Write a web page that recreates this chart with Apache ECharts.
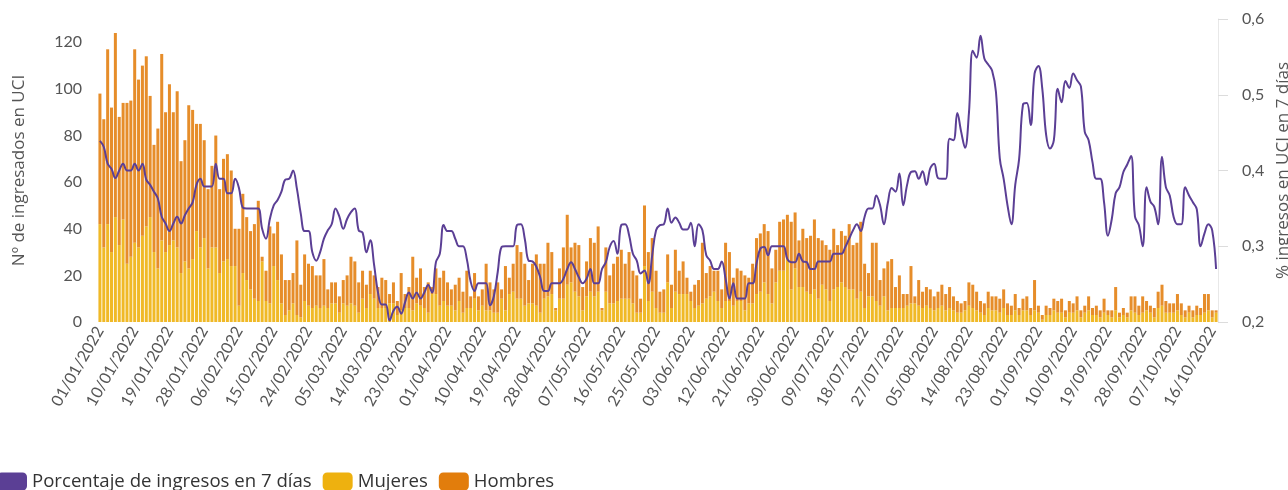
<!DOCTYPE html>
<html>
<head>
<meta charset="utf-8">
<script src="https://cdn.jsdelivr.net/npm/echarts@6/dist/echarts.min.js"></script>
<style>
  html, body { margin: 0; padding: 0; background: #fff; }
  #chart { width: 1288px; height: 490px; }
</style>
</head>
<body>
<div id="chart"></div>
<script>
// daily series, 01/01/2022 .. 17/10/2022
const startDate = [2022, 0, 1]
const dayCount = 290

// total admissions per day
const totals = [
  98,87,117,92,124,88,94,94,95,117,104,110,114,97,76,83,115,90,102,90,99,69,78,93,91,85,85,78,57,
  67,80,57,70,72,65,40,40,55,45,39,42,52,28,22,41,38,43,29,18,18,21,35,16,29,25,24,20,20,27,
  14,17,17,11,18,20,28,26,17,22,16,22,20,15,19,18,12,17,9,21,12,15,28,19,23,15,17,15,23,
  19,22,17,14,16,19,13,22,11,21,11,14,25,17,14,17,14,24,19,25,33,30,25,18,25,29,25,25,34,30,
  6,23,32,46,32,34,33,15,26,36,34,41,6,32,20,25,28,31,25,30,22,20,10,50,30,36,22,13,14,29,
  16,31,22,26,19,13,16,18,34,21,24,22,22,14,34,30,19,23,22,20,19,25,36,38,42,39,23,31,43,44,
  46,43,47,35,40,36,37,44,36,35,33,31,40,33,39,37,42,33,34,43,25,21,34,34,18,23,26,27,15,20,
  12,12,24,11,18,13,15,14,11,13,16,12,15,11,9,8,9,17,16,13,9,8,13,11,11,10,14,8,7,12,
  6,10,11,6,18,7,3,7,6,10,9,10,5,9,8,11,5,7,11,6,7,5,10,5,5,15,4,6,4,11,
  11,7,11,9,7,6,13,16,9,8,8,12,8,5,7,5,7,6,12,12,5,5
]

const mujeres = [
  42,32,42,30,45,33,44,25,28,34,32,37,41,45,30,23,35,30,33,35,32,21,26,23,27,39,32,36,23,
  32,32,21,26,27,24,24,7,21,18,14,10,9,26,9,8,24,18,8,3,5,8,3,2,9,7,6,7,6,7,
  6,8,8,4,8,7,8,7,4,10,6,12,10,6,6,6,8,8,3,5,6,6,5,8,7,6,4,12,12,
  7,9,7,7,5,9,4,6,6,10,5,7,5,5,4,4,10,5,12,13,10,10,7,8,8,7,4,10,11,12,
  5,10,10,16,17,13,11,5,11,13,11,13,5,13,8,8,9,10,10,10,8,4,4,24,9,13,6,4,4,17,
  6,13,12,12,12,9,6,7,8,10,11,13,9,6,9,9,7,9,9,5,8,8,12,13,17,12,8,17,22,22,
  27,14,23,15,15,13,12,14,10,16,14,9,14,15,17,15,14,14,10,13,6,11,11,9,7,11,5,6,6,6,
  6,7,8,8,7,6,7,6,5,6,7,5,6,5,4,4,5,7,6,5,4,3,6,5,5,4,6,3,3,5,
  3,5,5,3,5,4,1,3,3,5,4,4,2,4,4,5,2,4,5,3,3,2,4,3,2,5,2,3,2,5,
  4,3,4,5,4,2,6,7,4,4,4,5,3,2,4,2,3,3,4,5,2,4
]

// share of admissions in UCI over 7 days
const porcentaje = [
  0.439,0.431,0.409,0.402,0.390,0.400,0.409,0.400,0.400,0.409,0.400,0.409,0.388,0.381,0.372,0.363,0.339,0.330,0.320,0.330,0.339,0.330,0.341,0.350,0.358,0.381,0.389,0.379,0.379,
  0.379,0.409,0.389,0.389,0.370,0.370,0.389,0.377,0.351,0.350,0.350,0.350,0.350,0.323,0.310,0.336,0.354,0.361,0.372,0.388,0.389,0.400,0.376,0.343,0.320,0.320,0.292,0.281,0.292,0.310,
  0.321,0.329,0.350,0.339,0.323,0.336,0.345,0.350,0.321,0.318,0.292,0.308,0.275,0.239,0.223,0.223,0.202,0.215,0.220,0.211,0.226,0.239,0.231,0.239,0.231,0.239,0.249,0.239,0.279,
  0.290,0.328,0.320,0.320,0.310,0.300,0.300,0.283,0.253,0.241,0.251,0.251,0.251,0.222,0.234,0.266,0.299,0.300,0.300,0.300,0.328,0.329,0.310,0.281,0.280,0.273,0.259,0.241,0.241,0.251,
  0.251,0.251,0.257,0.270,0.279,0.270,0.259,0.251,0.257,0.270,0.251,0.251,0.270,0.279,0.299,0.307,0.290,0.328,0.329,0.315,0.290,0.281,0.264,0.268,0.251,0.288,0.321,0.328,0.329,0.350,
  0.331,0.338,0.331,0.322,0.322,0.331,0.300,0.329,0.321,0.288,0.281,0.270,0.270,0.280,0.257,0.231,0.251,0.231,0.231,0.231,0.251,0.251,0.277,0.297,0.299,0.288,0.300,0.300,0.300,0.300,
  0.283,0.279,0.279,0.290,0.280,0.279,0.270,0.270,0.280,0.280,0.280,0.280,0.290,0.290,0.290,0.299,0.310,0.321,0.329,0.320,0.339,0.350,0.350,0.367,0.354,0.329,0.357,0.377,0.372,0.396,
  0.354,0.381,0.398,0.399,0.389,0.399,0.381,0.403,0.409,0.390,0.389,0.389,0.442,0.440,0.476,0.451,0.430,0.475,0.558,0.549,0.578,0.548,0.540,0.532,0.504,0.416,0.389,0.354,0.329,0.381,
  0.415,0.487,0.489,0.460,0.528,0.538,0.508,0.447,0.429,0.440,0.508,0.490,0.518,0.509,0.528,0.519,0.511,0.451,0.440,0.411,0.389,0.389,0.358,0.314,0.336,0.370,0.378,0.398,0.408,0.419,
  0.339,0.328,0.300,0.378,0.359,0.352,0.329,0.418,0.378,0.367,0.339,0.329,0.329,0.378,0.367,0.358,0.349,0.300,0.317,0.329,0.321,0.270
]

const leftTicks = { min: 0, max: 130, interval: 20 }
const rightTicks = { min: 0.2, max: 0.6, interval: 0.1 }

const pad = n => String(n).padStart(2, '0')
const fechas = []
for (let i = 0; i < dayCount; i++) {
  const d = new Date(startDate[0], startDate[1], startDate[2] + i)
  fechas.push(pad(d.getDate()) + '/' + pad(d.getMonth() + 1) + '/' + d.getFullYear())
}
const hombres = totals.map((t, i) => t - mujeres[i])

const font = '"Open Sans", Lato, sans-serif'
const tickFont = 'Lato, sans-serif'
const chart = echarts.init(document.getElementById('chart'))

chart.setOption({
  animation: false,
  textStyle: { fontFamily: font },
  grid: { left: 98, right: 70, top: 19, bottom: 168, outerBoundsMode: 'none' },
  legend: {
    left: -3,
    top: 472,
    padding: 0,
    itemWidth: 30,
    itemHeight: 18,
    itemGap: 11,
    icon: 'roundRect',
    itemStyle: { opacity: 1 },
    textStyle: { fontSize: 18.6, color: '#333', fontFamily: font },
    data: ['Porcentaje de ingresos en 7 días', 'Mujeres', 'Hombres']
  },
  xAxis: {
    type: 'category',
    data: fechas,
    axisLine: { show: false },
    axisTick: { show: false },
    axisLabel: { interval: 8, rotate: 60, color: '#555', fontSize: 16, margin: 6, fontFamily: tickFont }
  },
  yAxis: [
    {
      type: 'value',
      min: leftTicks.min, max: leftTicks.max, interval: leftTicks.interval,
      name: 'Nº de ingresados en UCI',
      nameLocation: 'middle',
      nameGap: 70,
      nameRotate: 90,
      nameTextStyle: { fontSize: 17, color: '#555' },
      axisLine: { show: false },
      axisTick: { show: false },
      splitLine: { show: false },
      axisLabel: { color: '#555', fontSize: 16, margin: 16, showMaxLabel: false, fontFamily: tickFont }
    },
    {
      type: 'value',
      position: 'right',
      min: rightTicks.min, max: rightTicks.max, interval: rightTicks.interval,
      name: '% ingresos en UCI en 7 días',
      nameLocation: 'middle',
      nameGap: 56,
      nameRotate: 90,
      nameTextStyle: { fontSize: 17, color: '#555' },
      axisLine: { show: true, lineStyle: { color: '#e8e8e8' } },
      axisTick: { show: true, length: 10, lineStyle: { color: '#dcdcdc' } },
      splitLine: { show: false },
      axisLabel: {
        color: '#555', fontSize: 16, margin: 24, fontFamily: tickFont,
        formatter: v => v.toFixed(1).replace('.', ',')
      }
    }
  ],
  series: [
    {
      name: 'Porcentaje de ingresos en 7 días',
      type: 'line',
      yAxisIndex: 1,
      data: porcentaje,
      smooth: 0.4,
      showSymbol: false,
      z: 5,
      itemStyle: { color: '#5B3F95' },
      lineStyle: { color: '#5B3F95', width: 2 }
    },
    {
      name: 'Mujeres',
      type: 'bar',
      stack: 'ingresos',
      data: mujeres,
      barCategoryGap: '22%',
      itemStyle: { color: '#EEB10F', opacity: 0.9 }
    },
    {
      name: 'Hombres',
      type: 'bar',
      stack: 'ingresos',
      data: hombres,
      barCategoryGap: '22%',
      itemStyle: { color: '#E27D0C', opacity: 0.88 }
    }
  ]
})
</script>
</body>
</html>
